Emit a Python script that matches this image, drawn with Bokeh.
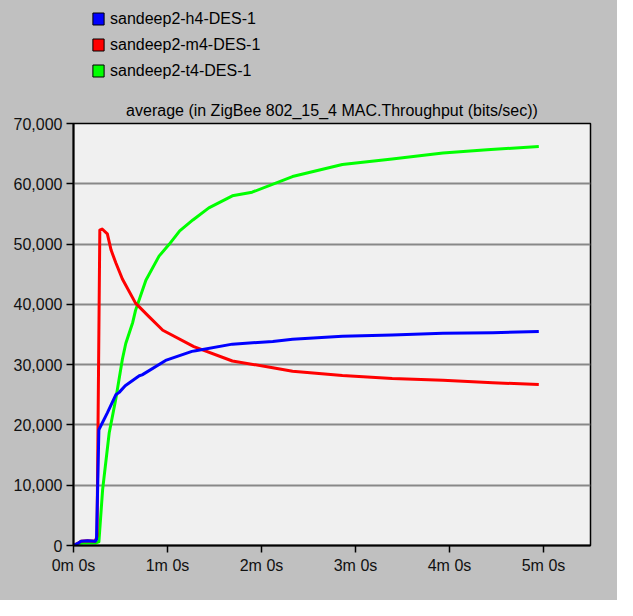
from bokeh.plotting import figure
from bokeh.layouts import column
from bokeh.models import (Range1d, FixedTicker, NumeralTickFormatter, Legend, LegendItem, Title)
from bokeh.embed import file_html
from bokeh.resources import INLINE

# time in minutes
h4_t = [0, 0.04, 0.08, 0.15, 0.23, 0.245, 0.27, 0.36, 0.45, 0.486, 0.55, 0.70, 0.73, 0.98, 1.26, 1.30, 1.69, 2.12, 2.33, 2.86, 3.39, 3.93, 4.46, 4.95]
h4_v = [0, 300, 700, 800, 700, 1000, 19200, 22000, 25000, 25400, 26500, 28150, 28300, 30700, 32200, 32300, 33400, 33850, 34200, 34700, 34900, 35200, 35300, 35500]

m4_t = [0, 0.04, 0.08, 0.15, 0.23, 0.25, 0.28, 0.305, 0.36, 0.40, 0.45, 0.52, 0.66, 0.80, 0.95, 1.28, 1.69, 2.12, 2.33, 2.86, 3.39, 3.93, 4.46, 4.95]
m4_v = [0, 300, 700, 800, 700, 1500, 52300, 52500, 51700, 49000, 46900, 44200, 40200, 38000, 35700, 33000, 30600, 29500, 28900, 28200, 27700, 27400, 27000, 26700]

t4_t = [0, 0.04, 0.10, 0.23, 0.27, 0.31, 0.38, 0.45, 0.52, 0.556, 0.63, 0.66, 0.77, 0.91, 1.02, 1.13, 1.27, 1.44, 1.69, 1.90, 2.33, 2.86, 3.39, 3.93, 4.40, 4.95]
t4_v = [0, 200, 400, 400, 600, 9300, 18700, 24300, 30900, 33500, 37000, 39000, 44000, 48000, 50000, 52200, 54000, 56000, 58000, 58600, 61200, 63200, 64100, 65100, 65650, 66200]

series_names = ["sandeep2-h4-DES-1", "sandeep2-m4-DES-1", "sandeep2-t4-DES-1"]
series_colors = ["#0000ff", "#ff0000", "#00ff00"]
series_t = [h4_t, m4_t, t4_t]
series_v = [h4_v, m4_v, t4_v]

x_ticks = [0, 1, 2, 3, 4, 5]
x_tick_labels = ["0m 0s", "1m 0s", "2m 0s", "3m 0s", "4m 0s", "5m 0s"]
y_ticks = [0, 10000, 20000, 30000, 40000, 50000, 60000, 70000]

title_text = "average (in ZigBee 802_15_4 MAC.Throughput (bits/sec))"
FONT = "Liberation Sans"
BG = "#c0c0c0"

# ---- legend strip (top) ----
lg = figure(width=617, height=94, output_backend="svg", toolbar_location=None,
            x_range=Range1d(0, 1), y_range=Range1d(0, 1),
            x_axis_location=None, y_axis_location=None,
            min_border_left=73, min_border_right=27, min_border_top=0, min_border_bottom=0)
lg.background_fill_color = None
lg.border_fill_color = None
lg.outline_line_color = None
lg.grid.visible = False

items = []
for name, c, tt, vv in zip(series_names, series_colors, series_t, series_v):
    # hidden swatch renderer for the legend (square colour patch)
    r = lg.vbar(x=tt, top=vv, width=0.01, fill_color=c, line_color="black", line_width=1, visible=False)
    items.append(LegendItem(label=name, renderers=[r]))

legend = Legend(items=items, location=(18, 13), orientation="vertical",
                background_fill_alpha=0, border_line_alpha=0, padding=0, margin=0,
                glyph_width=14, glyph_height=15, label_height=21, spacing=5, label_standoff=5,
                label_text_font=FONT, label_text_font_size="16px", label_text_color="black")
lg.add_layout(legend, "center")

# ---- main chart ----
p = figure(width=617, height=506, output_backend="svg", toolbar_location=None,
           x_range=Range1d(0, 5.5), y_range=Range1d(0, 70000),
           min_border_left=73, min_border_right=27, min_border_top=29, min_border_bottom=55)
p.background_fill_color = "#f0f0f0"
p.border_fill_color = BG
p.outline_line_color = "black"
p.outline_line_width = 1.5

t = Title(text=title_text, align="center", text_font=FONT, text_font_size="16px",
          text_font_style="normal", text_color="black", standoff=9)
p.add_layout(t, "above")

p.xgrid.visible = False
p.ygrid.ticker = FixedTicker(ticks=y_ticks)
p.ygrid.grid_line_color = "#888888"
p.ygrid.grid_line_width = 2

p.xaxis.ticker = FixedTicker(ticks=x_ticks)
p.xaxis.major_label_overrides = dict(zip(x_ticks, x_tick_labels))
p.yaxis.ticker = FixedTicker(ticks=y_ticks)
p.yaxis.formatter = NumeralTickFormatter(format="0,0")
for ax in (p.xaxis[0], p.yaxis[0]):
    ax.axis_line_color = "black"
    ax.axis_line_width = 2
    ax.major_tick_line_color = "black"
    ax.major_tick_line_width = 1.5
    ax.major_tick_out = 7
    ax.major_tick_in = 0
    ax.minor_tick_line_color = None
    ax.major_label_text_font = FONT
    ax.major_label_text_font_size = "16px"
    ax.major_label_text_color = "#111111"
p.xaxis.major_label_standoff = 4
p.yaxis.major_label_standoff = 4

p.line(t4_t, t4_v, line_color=series_colors[2], line_width=3, line_join="round")
p.line(m4_t, m4_v, line_color=series_colors[1], line_width=3, line_join="round")
p.line(h4_t, h4_v, line_color=series_colors[0], line_width=3, line_join="round")

layout = column(lg, p, spacing=0, styles={"background-color": BG})
open("out.html", "w").write(file_html(layout, INLINE))
